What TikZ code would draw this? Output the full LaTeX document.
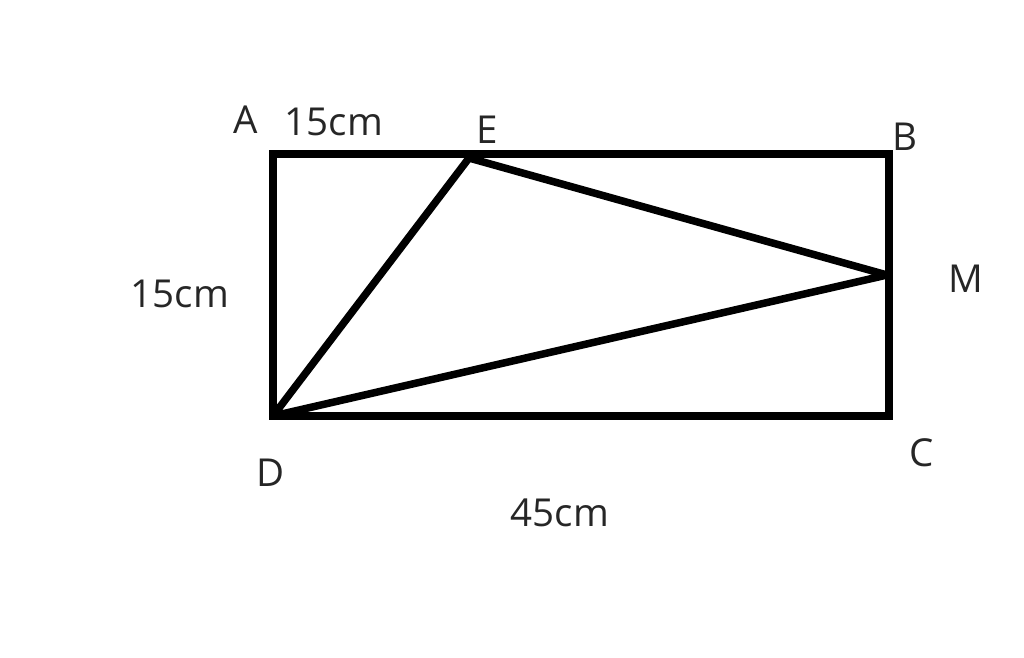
\documentclass[tikz,border=0pt]{standalone}
\usepackage{fontspec}
\setmainfont{Open Sans}
\begin{document}
\begin{tikzpicture}[x=1pt,y=-1pt,
  edge/.style={line width=7.5pt,black,line join=miter},
  tri/.style={line width=7.5pt,black,line join=round},
  lbl/.style={text=black!85,font=\fontsize{38.5}{42}\selectfont,inner sep=0pt}]
\useasboundingbox (0,0) rectangle (1024,657);
\coordinate (A) at (273,154);
\coordinate (B) at (889,154);
\coordinate (C) at (889,416);
\coordinate (D) at (273,416);
\coordinate (E) at (469,158);
\coordinate (M) at (887,275);
\draw[edge] (A) -- (B) -- (C) -- (D) -- cycle;
\draw[tri] (D) -- (E) -- (M) -- cycle;
\node[lbl] (lA) at (246,120) {A};
\node[lbl] (lAE) at (334,122) {15cm};
\node[lbl] (lE) at (487,130) {E};
\node[lbl] (lB) at (905,137) {B};
\node[lbl] (lM) at (966,279) {M};
\node[lbl] (lC) at (922,453) {C};
\node[lbl] (lD) at (271,473) {D};
\node[lbl] (lDC) at (560,513) {45cm};
\node[lbl] (lAD) at (180,294) {15cm};
\end{tikzpicture}
\end{document}
